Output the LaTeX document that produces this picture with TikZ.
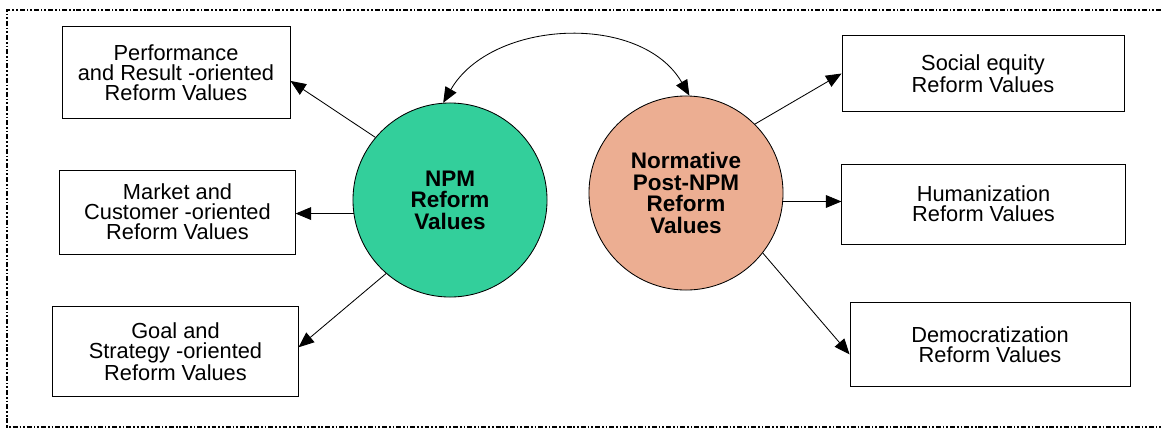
\documentclass[tikz,border=0pt]{standalone}
\usepackage{fontspec}
\setmainfont{Liberation Sans}
\usepackage{tikz}
\usetikzlibrary{arrows.meta}

\definecolor{npmgreen}{RGB}{51,207,155}
\definecolor{postsalmon}{RGB}{236,174,146}

\tikzset{
  bigtip/.tip={Triangle[length=11pt,width=9pt]},
  valbox/.style={draw, line width=0.6pt, inner sep=0pt, align=center,
    font=\fontsize{15.5}{14.2}\selectfont},
  valcircle/.style={circle, draw, line width=0.6pt, inner sep=0pt,
    minimum size=4.85cm, align=center, font=\fontsize{16}{15.2}\selectfont\bfseries},
  arr/.style={line width=0.6pt, -bigtip},
  frame/.style={line width=1.6pt,
    dash pattern=on 3.5pt off 1.4pt on 1.2pt off 1.4pt on 1.2pt off 1.4pt}
}

\begin{document}
\begin{tikzpicture}[x=0.025cm, y=0.025cm]
        \clip (0,0) rectangle (1161,430);

        % Outer frame (open on the right side)
        \draw[frame] (1175,420) -- (7,420) -- (7,3) -- (1175,3);

        % The two value circles
        \node[valcircle, fill=npmgreen]   (npm)  at (450,230) {NPM\\Reform\\Values};
        \node[valcircle, fill=postsalmon] (post) at (686,237) {Normative\\Post-NPM\\Reform\\Values};

        % NPM side boxes
        \node[valbox, minimum width=5.70cm, minimum height=2.28cm] (perf) at (176,357.5)
            {Performance\\and Result -oriented\\Reform Values};
        \node[valbox, minimum width=5.88cm, minimum height=2.10cm] (mkt) at (177.5,218)
            {Market and\\Customer -oriented\\Reform Values};
        \node[valbox, minimum width=6.13cm, minimum height=2.23cm] (goal) at (175.5,78.5)
            {Goal and\\Strategy -oriented\\Reform Values};

        % Post-NPM side boxes
        \node[valbox, minimum width=7.05cm, minimum height=1.88cm] (soc) at (983,356.5)
            {Social equity\\Reform Values};
        \node[valbox, minimum width=7.08cm, minimum height=2.00cm] (hum) at (983.5,226)
            {Humanization\\Reform Values};
        \node[valbox, minimum width=7.00cm, minimum height=2.08cm] (dem) at (990,85.5)
            {Democratization\\Reform Values};

        % Arrows out of the NPM circle
        \draw[arr] (npm.140) -- ([yshift=-6pt]perf.east);
        \draw[arr] (npm.188) -- (npm.188 -| mkt.east);
        \draw[arr] (npm.229) -- ([yshift=3pt]goal.east);

        % Arrows out of the Post-NPM circle
        \draw[arr] (post.45) -- (soc.west);
        \draw[arr] (post.-5) -- (post.-5 -| hum.west);
        \draw[arr] (post.-38) -- ([yshift=-7pt]dem.west);

        % Curved two-way link between the circles
        \draw[line width=0.6pt, bigtip-bigtip] (npm.94) to[out=60, in=120] (post.88);
\end{tikzpicture}
\end{document}
